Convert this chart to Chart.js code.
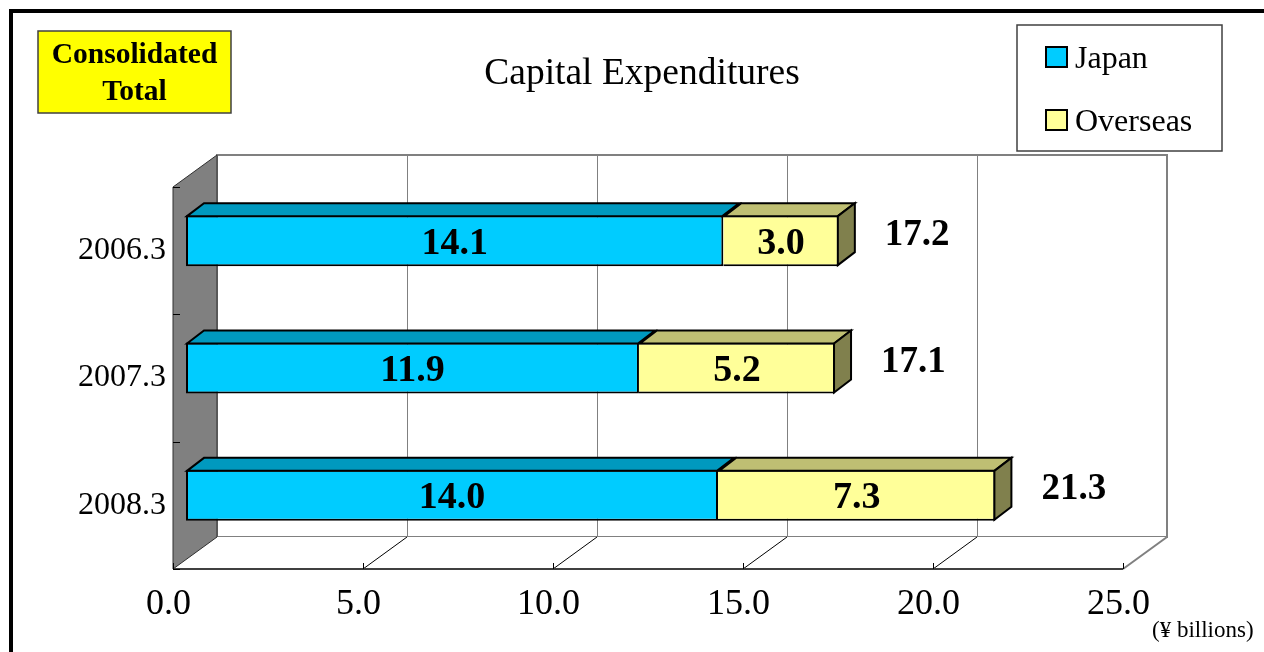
<!DOCTYPE html>
<html>
<head>
<meta charset="utf-8">
<title>Capital Expenditures</title>
<script src="https://cdn.jsdelivr.net/npm/chart.js@4.4.1/dist/chart.umd.min.js"></script>
<style>
  html, body { margin: 0; padding: 0; background: #ffffff; overflow: hidden; }
  #wrap { width: 1264px; height: 652px; }
  canvas { display: block; }
</style>
</head>
<body>
<div id="wrap"><canvas id="c" width="1264" height="652"></canvas></div>
<script>
// ---------- data ----------
const categories = ['2006.3', '2007.3', '2008.3'];
const japan = [14.14, 11.92, 14.0];
const overseas = [3.04, 5.16, 7.3];
const seriesNames = ['Japan', 'Overseas'];
const xTickLabels = ['0.0', '5.0', '10.0', '15.0', '20.0', '25.0'];
const titleText = 'Capital Expenditures';
const badgeLines = ['Consolidated', 'Total'];
const unitText = '(¥ billions)';

// ---------- styling constants ----------
const SERIF = '"Liberation Serif", "Times New Roman", Times, serif';
const FRONT = { dx: -13, dy: 10 };   // front plane relative to bar plane
const BACK = { dx: 31, dy: -22 };    // back wall relative to bar plane
const BAR_DEPTH = { dx: 17, dy: -13 };
const faceColors = [
  { front: '#00CCFF', top: '#0099BF', side: '#006680' },
  { front: '#FFFF99', top: '#BFBF73', side: '#80804D' }
];

const totals = japan.map((v, i) => v + overseas[i]);

const threeD = {
  id: 'threeD',
  beforeDraw(chart) {
    const ctx = chart.ctx;
    ctx.save();
    ctx.fillStyle = '#ffffff';
    ctx.fillRect(0, 0, chart.width, chart.height);
    // outer frame (top + left)
    ctx.fillStyle = '#000000';
    ctx.fillRect(9, 9, chart.width - 9, 4);
    ctx.fillRect(9, 9, 4, chart.height - 9);
    ctx.restore();
  },
  beforeDatasetsDraw(chart) {
    const ctx = chart.ctx;
    const xs = chart.scales.x, ys = chart.scales.y;
    const left = xs.getPixelForValue(xs.min), right = xs.getPixelForValue(xs.max);
    const top = ys.top, bottom = ys.bottom;
    const tickVals = xs.ticks.map(t => t.value);
    ctx.save();
    // back wall
    ctx.fillStyle = '#ffffff';
    ctx.fillRect(left + BACK.dx, top + BACK.dy, right - left, bottom - top);
    // gridlines
    ctx.strokeStyle = '#808080';
    ctx.lineWidth = 1;
    tickVals.forEach(v => {
      if (v === xs.min || v === xs.max) return;
      const x = Math.round(xs.getPixelForValue(v) + BACK.dx) + 0.5;
      ctx.beginPath();
      ctx.moveTo(x, top + BACK.dy);
      ctx.lineTo(x, bottom + BACK.dy);
      ctx.stroke();
    });
    ctx.lineWidth = 2;
    ctx.strokeRect(left + BACK.dx, top + BACK.dy, right - left, bottom - top);
    // floor
    ctx.fillStyle = '#ffffff';
    ctx.beginPath();
    ctx.moveTo(left + FRONT.dx, bottom + FRONT.dy);
    ctx.lineTo(left + BACK.dx, bottom + BACK.dy);
    ctx.lineTo(right + BACK.dx, bottom + BACK.dy);
    ctx.lineTo(right + FRONT.dx, bottom + FRONT.dy);
    ctx.closePath();
    ctx.fill();
    ctx.strokeStyle = '#808080';
    ctx.lineWidth = 2;
    ctx.beginPath();
    ctx.moveTo(right + BACK.dx, bottom + BACK.dy);
    ctx.lineTo(right + FRONT.dx, bottom + FRONT.dy);
    ctx.stroke();
    // floor diagonals at ticks
    ctx.strokeStyle = '#000000';
    ctx.lineWidth = 1;
    tickVals.forEach(v => {
      if (v === xs.min || v === xs.max) return;
      const x = xs.getPixelForValue(v);
      ctx.beginPath();
      ctx.moveTo(x + BACK.dx, bottom + BACK.dy);
      ctx.lineTo(x + FRONT.dx, bottom + FRONT.dy);
      ctx.stroke();
    });
    // side wall
    ctx.fillStyle = '#808080';
    ctx.beginPath();
    ctx.moveTo(left + FRONT.dx, top + FRONT.dy);
    ctx.lineTo(left + BACK.dx, top + BACK.dy);
    ctx.lineTo(left + BACK.dx, bottom + BACK.dy);
    ctx.lineTo(left + FRONT.dx, bottom + FRONT.dy);
    ctx.closePath();
    ctx.fill();
    ctx.strokeStyle = '#303030';
    ctx.lineWidth = 1;
    ctx.stroke();
    // front value axis line
    ctx.strokeStyle = '#404040';
    ctx.lineWidth = 2;
    ctx.beginPath();
    ctx.moveTo(left + FRONT.dx, bottom + FRONT.dy);
    ctx.lineTo(right + FRONT.dx, bottom + FRONT.dy);
    ctx.stroke();
    // value tick marks
    ctx.strokeStyle = '#000000';
    ctx.lineWidth = 1;
    tickVals.forEach(v => {
      const x = Math.round(xs.getPixelForValue(v) + FRONT.dx) + 0.5;
      ctx.beginPath();
      ctx.moveTo(x, bottom + FRONT.dy);
      ctx.lineTo(x, bottom + FRONT.dy - 6);
      ctx.stroke();
    });
    // category tick marks
    const half = (ys.getPixelForValue(1) - ys.getPixelForValue(0)) / 2;
    const edges = [];
    categories.forEach((c, i) => edges.push(ys.getPixelForValue(i) - half));
    edges.push(ys.getPixelForValue(categories.length - 1) + half);
    edges.forEach(e => {
      const y = Math.round(e + FRONT.dy) + 0.5;
      ctx.beginPath();
      ctx.moveTo(left + FRONT.dx, y);
      ctx.lineTo(left + FRONT.dx + 7, y);
      ctx.stroke();
    });
    ctx.restore();
  },
  afterDatasetsDraw(chart) {
    const ctx = chart.ctx;
    const n = chart.data.datasets.length;
    ctx.save();
    ctx.lineJoin = 'miter';
    ctx.strokeStyle = '#000000';
    ctx.lineWidth = 2;
    chart.data.datasets.forEach((ds, d) => {
      const meta = chart.getDatasetMeta(d);
      meta.data.forEach((el, i) => {
        const p = el.getProps(['x', 'y', 'base', 'height'], true);
        const y0 = p.y - p.height / 2 + 1, y1 = p.y + p.height / 2 - 1;
        const x0 = p.base, x1 = p.x - 1;
        // top face
        ctx.fillStyle = faceColors[d].top;
        ctx.beginPath();
        ctx.moveTo(x0 + 1, y0);
        ctx.lineTo(x0 + 1 + BAR_DEPTH.dx, y0 + BAR_DEPTH.dy);
        ctx.lineTo(x1 + BAR_DEPTH.dx, y0 + BAR_DEPTH.dy);
        ctx.lineTo(x1, y0);
        ctx.closePath();
        ctx.fill();
        ctx.stroke();
        if (d === n - 1) {
          ctx.fillStyle = faceColors[d].side;
          ctx.beginPath();
          ctx.moveTo(x1, y0);
          ctx.lineTo(x1 + BAR_DEPTH.dx, y0 + BAR_DEPTH.dy);
          ctx.lineTo(x1 + BAR_DEPTH.dx, y1 + BAR_DEPTH.dy);
          ctx.lineTo(x1, y1);
          ctx.closePath();
          ctx.fill();
          ctx.stroke();
        }
      });
    });
    // segment labels
    ctx.fillStyle = '#000000';
    ctx.font = 'bold 38px ' + SERIF;
    ctx.textAlign = 'center';
    ctx.textBaseline = 'alphabetic';
    chart.data.datasets.forEach((ds, d) => {
      const meta = chart.getDatasetMeta(d);
      meta.data.forEach((el, i) => {
        const p = el.getProps(['x', 'y', 'base'], true);
        ctx.fillText(ds.data[i].toFixed(1), (p.x + p.base) / 2, p.y + 13);
      });
    });
    // totals
    ctx.font = 'bold 37px ' + SERIF;
    ctx.textAlign = 'left';
    const lastMeta = chart.getDatasetMeta(n - 1);
    lastMeta.data.forEach((el, i) => {
      const p = el.getProps(['x', 'y'], true);
      ctx.fillText(totals[i].toFixed(1), p.x + 46, p.y + 4);
    });
    ctx.restore();
  },
  afterDraw(chart) {
    const ctx = chart.ctx;
    ctx.save();
    // title
    ctx.fillStyle = '#000000';
    ctx.font = '37.5px ' + SERIF;
    ctx.textAlign = 'center';
    ctx.textBaseline = 'alphabetic';
    ctx.fillText(titleText, 642, 84);
    // badge
    ctx.fillStyle = '#FFFF00';
    ctx.fillRect(38, 31, 193, 82);
    ctx.strokeStyle = '#404040';
    ctx.lineWidth = 1.5;
    ctx.strokeRect(38, 31, 193, 82);
    ctx.fillStyle = '#000000';
    ctx.font = 'bold 29.5px ' + SERIF;
    ctx.fillText(badgeLines[0], 134.5, 63);
    ctx.fillText(badgeLines[1], 134.5, 100);
    // legend
    ctx.fillStyle = '#ffffff';
    ctx.fillRect(1017, 25, 205, 126);
    ctx.strokeStyle = '#404040';
    ctx.lineWidth = 1.5;
    ctx.strokeRect(1017, 25, 205, 126);
    ctx.font = '32px ' + SERIF;
    ctx.textAlign = 'left';
    chart.data.datasets.forEach((ds, d) => {
      const sy = 47 + d * 63;
      ctx.fillStyle = ds.backgroundColor;
      ctx.fillRect(1046, sy, 21, 20);
      ctx.strokeStyle = '#000000';
      ctx.lineWidth = 2;
      ctx.strokeRect(1046, sy, 21, 20);
      ctx.fillStyle = '#000000';
      ctx.fillText(ds.label, 1075, sy + 21);
    });
    // unit
    ctx.font = '23px ' + SERIF;
    ctx.fillText(unitText, 1152, 637);
    ctx.restore();
  }
};

new Chart(document.getElementById('c'), {
  type: 'bar',
  data: {
    labels: categories,
    datasets: [
      { label: seriesNames[0], data: japan, backgroundColor: faceColors[0].front, borderColor: '#000000',
        borderWidth: 2, borderSkipped: false, barThickness: 51, inflateAmount: 0 },
      { label: seriesNames[1], data: overseas, backgroundColor: faceColors[1].front, borderColor: '#000000',
        borderWidth: { top: 2, bottom: 2, right: 2, left: 0 }, borderSkipped: false, barThickness: 51, inflateAmount: 0 }
    ]
  },
  options: {
    indexAxis: 'y',
    responsive: false,
    animation: false,
    devicePixelRatio: 1,
    layout: { padding: { left: 0, right: 128, top: 177, bottom: 0 } },
    plugins: { legend: { display: false }, title: { display: false }, tooltip: { enabled: false } },
    scales: {
      x: {
        type: 'linear', stacked: true, min: 0, max: 25,
        ticks: {
          stepSize: 5, color: '#000000', padding: 24, labelOffset: -17.5,
          font: { family: SERIF, size: 36 },
          callback: (v, i) => xTickLabels[i]
        },
        grid: { display: false, drawTicks: false, tickLength: 0 },
        border: { display: false },
        afterFit: s => { s.height = 93; }
      },
      y: {
        type: 'category', stacked: true,
        ticks: { color: '#000000', padding: 20, labelOffset: 10, font: { family: SERIF, size: 32 } },
        grid: { display: false, drawTicks: false, tickLength: 0 },
        border: { display: false },
        afterFit: s => { s.width = 186; }
      }
    }
  },
  plugins: [threeD]
});
</script>
</body>
</html>
